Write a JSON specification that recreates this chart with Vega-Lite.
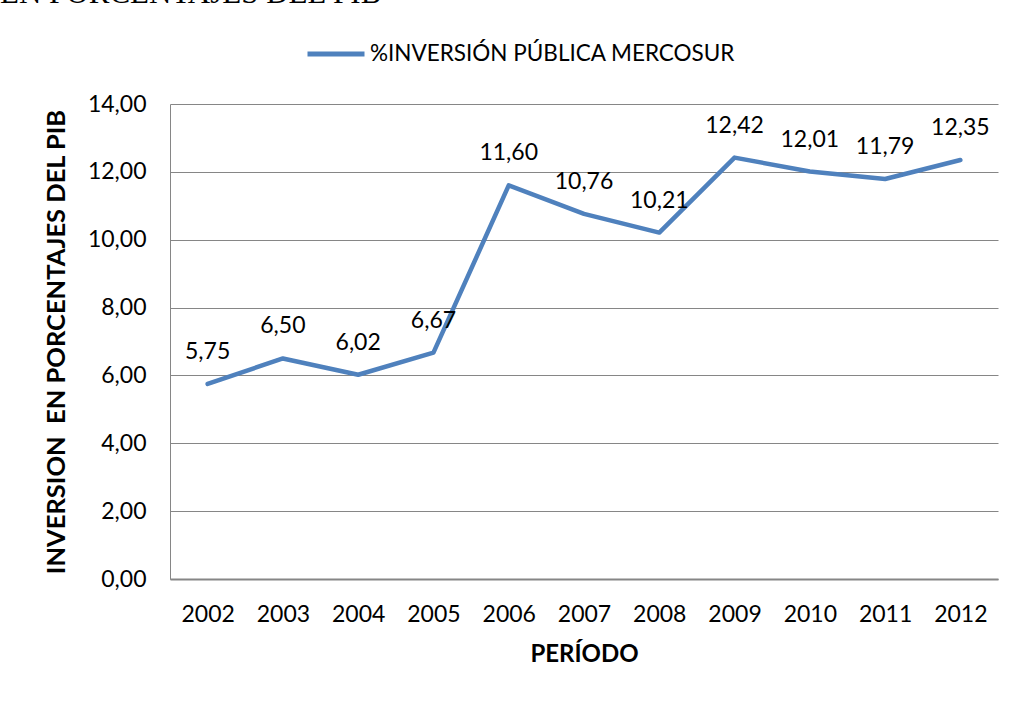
{
  "$schema": "https://vega.github.io/schema/vega-lite/v6.json",
  "width": 828,
  "height": 475,
  "autosize": "none",
  "padding": {"left": 170, "top": 104, "right": 14, "bottom": 132},
  "background": "white",
  "title": {
    "text": "EN PORCENTAJES DEL PIB",
    "anchor": "start",
    "frame": "group",
    "orient": "top",
    "font": "Liberation Serif",
    "fontSize": 31,
    "fontWeight": "normal",
    "color": "black",
    "baseline": "alphabetic",
    "offset": 0,
    "dx": -170,
    "dy": 11
  },
  "data": {
    "values": [
      {"periodo": "2002", "valor": 5.75, "serie": "%INVERSIÓN PÚBLICA MERCOSUR"},
      {"periodo": "2003", "valor": 6.50, "serie": "%INVERSIÓN PÚBLICA MERCOSUR"},
      {"periodo": "2004", "valor": 6.02, "serie": "%INVERSIÓN PÚBLICA MERCOSUR"},
      {"periodo": "2005", "valor": 6.67, "serie": "%INVERSIÓN PÚBLICA MERCOSUR"},
      {"periodo": "2006", "valor": 11.60, "serie": "%INVERSIÓN PÚBLICA MERCOSUR"},
      {"periodo": "2007", "valor": 10.76, "serie": "%INVERSIÓN PÚBLICA MERCOSUR"},
      {"periodo": "2008", "valor": 10.21, "serie": "%INVERSIÓN PÚBLICA MERCOSUR"},
      {"periodo": "2009", "valor": 12.42, "serie": "%INVERSIÓN PÚBLICA MERCOSUR"},
      {"periodo": "2010", "valor": 12.01, "serie": "%INVERSIÓN PÚBLICA MERCOSUR"},
      {"periodo": "2011", "valor": 11.79, "serie": "%INVERSIÓN PÚBLICA MERCOSUR"},
      {"periodo": "2012", "valor": 12.35, "serie": "%INVERSIÓN PÚBLICA MERCOSUR"}
    ]
  },
  "encoding": {
    "x": {
      "field": "periodo",
      "type": "ordinal",
      "scale": {"type": "point", "padding": 0.5},
      "axis": {
        "title": "PERÍODO",
        "titleFontSize": 24,
        "labelAngle": 0,
        "ticks": false,
        "grid": false,
        "labelPadding": 24,
        "titlePadding": 16,
        "domainColor": "#868686",
        "domainWidth": 2
      }
    },
    "y": {
      "field": "valor",
      "type": "quantitative",
      "scale": {"domain": [0, 14], "nice": false},
      "axis": {
        "title": "INVERSION \u00a0EN PORCENTAJES DEL PIB",
        "titleFontSize": 25.5,
        "values": [0, 2, 4, 6, 8, 10, 12, 14],
        "labelExpr": "replace(format(datum.value, '.2f'), '.', ',')",
        "ticks": false,
        "grid": true,
        "gridColor": "#868686",
        "gridWidth": 1,
        "gridOpacity": 1,
        "labelPadding": 24,
        "titlePadding": 18,
        "domainColor": "#868686",
        "domainWidth": 1
      }
    }
  },
  "layer": [
    {
      "mark": {"type": "line", "strokeWidth": 4.5, "strokeCap": "round", "strokeJoin": "round"},
      "encoding": {
        "color": {
          "field": "serie",
          "type": "nominal",
          "scale": {"range": ["#4F81BD"]},
          "legend": {
            "title": null,
            "orient": "none",
            "legendX": 135,
            "legendY": -81,
            "symbolType": "stroke",
            "symbolSize": 3249,
            "symbolStrokeWidth": 5,
            "labelFontSize": 22.5,
            "labelFont": "Lato",
            "labelColor": "black",
            "labelLimit": 0,
            "labelOffset": 3
          }
        }
      }
    },
    {
      "mark": {"type": "text", "dy": -32, "baseline": "middle", "align": "center", "font": "Lato", "fontSize": 23, "color": "black"},
      "encoding": {
        "text": {"field": "valor", "type": "quantitative", "format": ".2f"}
      }
    }
  ],
  "config": {
    "locale": {"number": {"decimal": ",", "thousands": ".", "grouping": [3], "currency": ["", " €"]}},
    "view": {"stroke": null},
    "axis": {
      "labelFont": "Lato",
      "labelFontSize": 23,
      "labelColor": "black",
      "titleFont": "Lato",
      "titleFontWeight": "bold",
      "titleColor": "black"
    }
  }
}
